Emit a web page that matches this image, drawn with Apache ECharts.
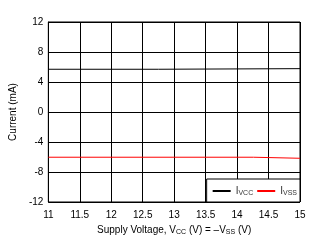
<!DOCTYPE html>
<html>
<head>
<meta charset="utf-8">
<script src="https://cdn.jsdelivr.net/npm/echarts@6/dist/echarts.min.js"></script>
<style>html,body{margin:0;padding:0;background:#fff}#c{width:320px;height:243px}</style>
</head>
<body>
<div id="c"></div>
<script>
// Data
const ivccX = [11, 12.75, 12.75, 15];
const ivccY = [5.7, 5.7, 5.78, 5.78];
const ivssX = [11, 14.26, 14.26, 15];
const ivssY = [-6.03, -6.03, -6.17, -6.17];
const xTicks = [11, 11.5, 12, 12.5, 13, 13.5, 14, 14.5, 15];
const yTicks = [-12, -8, -4, 0, 4, 8, 12];

const chart = echarts.init(document.getElementById('c'), null, {renderer: 'canvas'});
const font = 'Liberation Sans, Arial, sans-serif';
const rich = {
  sub: {fontSize: 7, fontFamily: font, color: '#000', verticalAlign: 'bottom', lineHeight: 12},
  n: {fontSize: 10, fontFamily: font, color: '#000', lineHeight: 12}
};
const legendRich = {
  sub: {fontSize: 7, fontFamily: font, color: '#333', verticalAlign: 'bottom', lineHeight: 12},
  n: {fontSize: 10, fontFamily: font, color: '#333', lineHeight: 12}
};
chart.setOption({
  animation: false,
  grid: {left: 45, right: 20, top: 22, bottom: 41, show: true, borderColor: '#000', borderWidth: 1},
  xAxis: {
    type: 'value', min: xTicks[0], max: xTicks[xTicks.length - 1], interval: 0.5,
    axisLine: {show: true, lineStyle: {color: '#000', width: 1}},
    axisTick: {show: false},
    splitLine: {show: true, lineStyle: {color: '#000', width: 1}},
    axisLabel: {color: '#000', fontSize: 10, fontFamily: font, margin: 8},
    name: '{n|Supply Voltage, V}{sub|CC}{n| (V) = –V}{sub|SS}{n| (V)}',
    nameLocation: 'middle', nameGap: 17,
    nameTextStyle: {rich: rich, fontSize: 10, fontFamily: font, color: '#000'}
  },
  yAxis: {
    type: 'value', min: yTicks[0], max: yTicks[yTicks.length - 1], interval: 4,
    axisLine: {show: true, lineStyle: {color: '#000', width: 1}},
    axisTick: {show: false},
    splitLine: {show: true, lineStyle: {color: '#000', width: 1}},
    axisLabel: {color: '#000', fontSize: 10, fontFamily: font, margin: 5},
    name: 'Current (mA)', nameLocation: 'middle', nameGap: 26,
    nameTextStyle: {fontSize: 10, fontFamily: font, color: '#000'}
  },
  legend: {
    right: 20, bottom: 41,
    padding: [6, 3, 5, 6],
    backgroundColor: '#fff', borderColor: '#000', borderWidth: 1,
    itemWidth: 18, itemHeight: 2, itemGap: 4,
    data: [
      {name: 'IVCC', icon: 'rect', itemStyle: {color: '#000'}},
      {name: 'IVSS', icon: 'rect', itemStyle: {color: '#ff0000'}}
    ],
    formatter: function (n) { return '{n|I}{sub|' + n.slice(1) + '}'; },
    textStyle: {rich: legendRich, color: '#333', fontSize: 10, fontFamily: font, lineHeight: 12}
  },
  series: [
    {name: 'IVCC', type: 'line', symbol: 'none', data: ivccX.map((x, i) => [x, ivccY[i]]),
     lineStyle: {color: '#000', width: 1}, itemStyle: {color: '#000'}},
    {name: 'IVSS', type: 'line', symbol: 'none', data: ivssX.map((x, i) => [x, ivssY[i]]),
     lineStyle: {color: '#ff0000', width: 1}, itemStyle: {color: '#ff0000'}}
  ]
});
</script>
</body>
</html>
